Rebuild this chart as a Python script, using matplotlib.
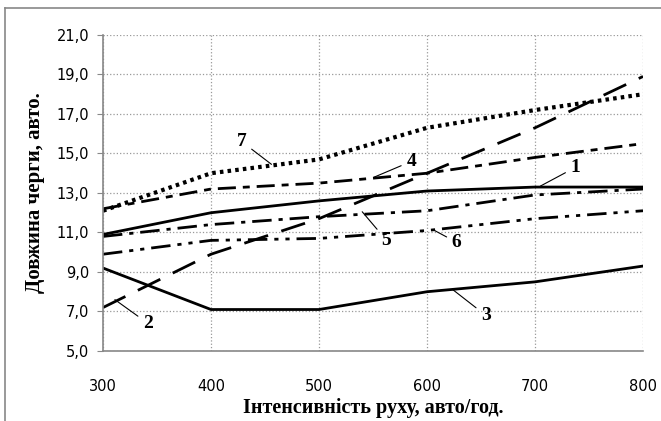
import matplotlib.pyplot as plt
from matplotlib.lines import Line2D

x = [300, 400, 500, 600, 700, 800]
line1 = [10.9, 12.0, 12.6, 13.1, 13.3, 13.3]
line2 = [7.2, 9.9, 11.7, 14.0, 16.3, 18.9]
line3 = [9.2, 7.1, 7.1, 8.0, 8.5, 9.3]
line4 = [12.2, 13.2, 13.5, 14.0, 14.8, 15.5]
line5 = [10.8, 11.4, 11.8, 12.1, 12.9, 13.2]
line6 = [9.9, 10.6, 10.7, 11.1, 11.7, 12.1]
line7 = [12.1, 14.0, 14.7, 16.3, 17.2, 18.0]
yticks = [5, 7, 9, 11, 13, 15, 17, 19, 21]

fig = plt.figure(figsize=(6.61, 4.21), dpi=100)
ax = fig.add_axes([0.1558, 0.1663, 0.8170, 0.7506])

ax.plot(x, line1, color='black', lw=2.0, ls='-')
ax.plot(x, line3, color='black', lw=2.0, ls='-')
ax.plot(x, line2, color='black', lw=2.0, ls=(0, (9, 5)))
ax.plot(x, line4, color='black', lw=2.0, ls=(0, (6.5, 2.5, 2.5, 2.5)))
ax.plot(x, line5, color='black', lw=2.0, ls=(0, (7, 2.5, 1.5, 2.5)))
ax.plot(x, line6, color='black', lw=2.0, ls=(0, (7, 2.5, 1.5, 2.5, 1.5, 2.5)))
ax.plot(x, line7, color='black', lw=3.0, ls=(0, (0.85, 1.0)))

ax.set_xlim(300, 800)
ax.set_ylim(5, 21)
ax.set_xticks(x)
ax.set_yticks(yticks)
ax.set_yticklabels([f"{v:.1f}".replace('.', ',') for v in yticks])
ax.tick_params(labelsize=10.5, colors='#888888', labelcolor='black')
ax.tick_params(axis='y', length=4, pad=6)
ax.tick_params(axis='x', length=0, pad=20)
ax.grid(True, ls=':', color='#999999', lw=0.9)
for s in ['top', 'right']:
    ax.spines[s].set_visible(False)
for s in ['left', 'bottom']:
    ax.spines[s].set_color('#888888')
    ax.spines[s].set_linewidth(1.2)

ax.set_xlabel("Інтенсивність руху, авто/год.", family='Liberation Serif',
              fontweight='bold', fontsize=14.5, labelpad=3)
ax.set_ylabel("Довжина черги, авто.", family='Liberation Serif',
              fontweight='bold', fontsize=15, labelpad=8)

# номери кривих з виносками
labels = [
    ("7", (456, 14.45), (424, 15.6)),
    ("4", (551, 13.8), (581, 14.6)),
    ("1", (705, 13.35), (733, 14.3)),
    ("5", (540, 12.05), (558, 10.6)),
    ("6", (607, 11.1), (623, 10.5)),
    ("3", (624, 8.1), (650, 6.8)),
    ("2", (311, 7.6), (337, 6.4)),
]
for txt, xy, xytext in labels:
    ax.annotate(txt, xy=xy, xytext=xytext, family='Liberation Serif',
                fontweight='bold', fontsize=14, ha='left', va='center',
                arrowprops=dict(arrowstyle='-', color='black', lw=0.8,
                                shrinkA=2, shrinkB=0))

# рамка діаграми (видно лише верх і лівий край)
fig.add_artist(Line2D([5 / 661, 1], [1 - 8 / 421] * 2, transform=fig.transFigure,
                      color='#888888', lw=1.2))
fig.add_artist(Line2D([5 / 661] * 2, [0, 1 - 8 / 421], transform=fig.transFigure,
                      color='#888888', lw=1.2))

fig.savefig("out.png", dpi=100)
